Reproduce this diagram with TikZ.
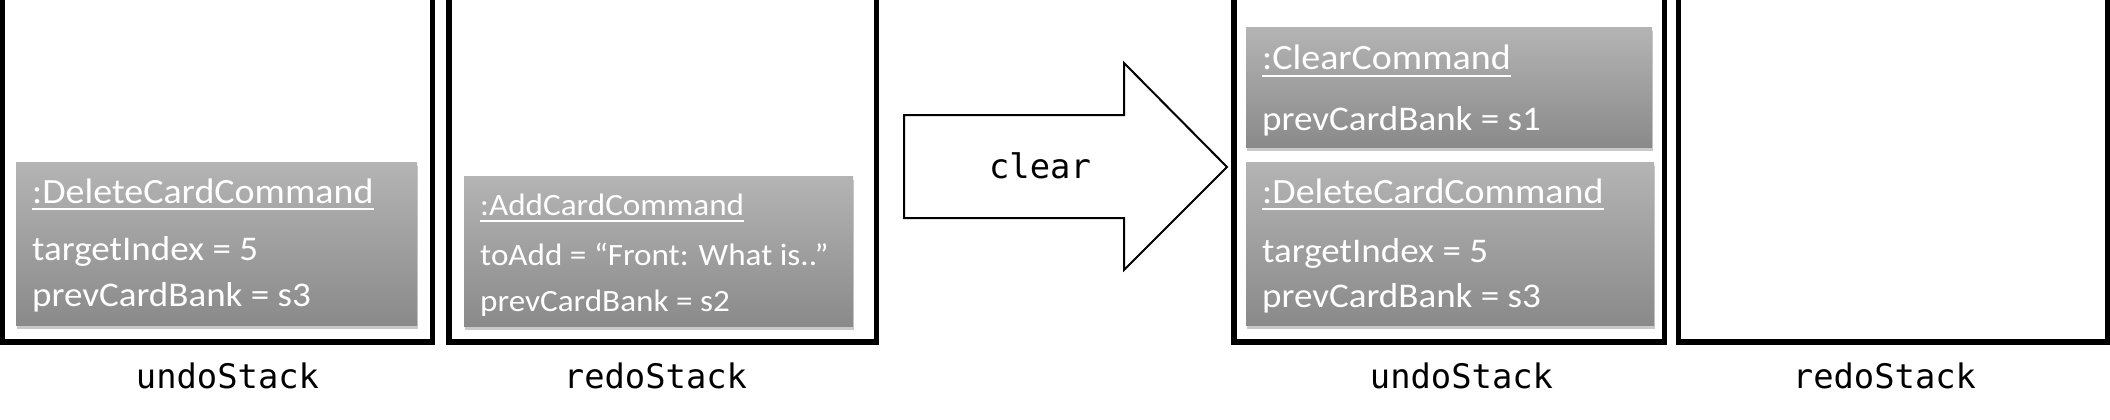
\documentclass[tikz,border=0pt]{standalone}
\usepackage{fontspec}
\setmainfont{Carlito}
\newfontfamily\boxfont[FakeStretch=1.07]{Carlito}
\newfontfamily\monofont{DejaVu Sans Mono}
\usetikzlibrary{shadows}
\definecolor{boxtop}{HTML}{B4B4B4}
\definecolor{boxbot}{HTML}{8A8A8A}
\tikzset{
  stackwall/.style={line width=5.5pt, line join=miter, black},
  cmdbox/.style={draw=none, inner sep=0, anchor=north west, top color=boxtop, bottom color=boxbot,
     drop shadow={opacity=0.35, shadow xshift=1pt, shadow yshift=-4pt, fill=black!60}},
  titletxt/.style={inner sep=0, anchor=base west, text=white, font=\boxfont\fontsize{35.5}{40}\selectfont},
  bigtxt/.style={inner sep=0, anchor=base west, text=white, font=\boxfont\fontsize{34.6}{40}\selectfont},
  smalltxt/.style={inner sep=0, anchor=base west, text=white, font=\boxfont\fontsize{31}{36}\selectfont},
  ulline/.style={white, line width=2.5pt},
  stacklabel/.style={inner sep=0, anchor=base, font=\monofont\fontsize{33.8}{40}\selectfont},
  bigarrow/.style={draw=black, line width=2pt, fill=white, line join=miter}
}
\begin{document}
\begin{tikzpicture}[x=1pt,y=-1pt]
\useasboundingbox (0,0) rectangle (2110,420);
\fill[white] (0,0) rectangle (2110,420);

% stacks
\coordinate (u1a) at (2.5,-5);   \coordinate (u1b) at (2.5,342);
\coordinate (u1c) at (432.5,342); \coordinate (u1d) at (432.5,-5);
\draw[stackwall] (u1a) -- (u1b) -- (u1c) -- (u1d);
\coordinate (r1a) at (449,-5);   \coordinate (r1b) at (449,342);
\coordinate (r1c) at (876.5,342); \coordinate (r1d) at (876.5,-5);
\draw[stackwall] (r1a) -- (r1b) -- (r1c) -- (r1d);
\coordinate (u2a) at (1234,-5);   \coordinate (u2b) at (1234,342);
\coordinate (u2c) at (1664.5,342); \coordinate (u2d) at (1664.5,-5);
\draw[stackwall] (u2a) -- (u2b) -- (u2c) -- (u2d);
\coordinate (r2a) at (1678.5,-5);   \coordinate (r2b) at (1678.5,342);
\coordinate (r2c) at (2107.5,342); \coordinate (r2d) at (2107.5,-5);
\draw[stackwall] (r2a) -- (r2b) -- (r2c) -- (r2d);

% command boxes
\node[cmdbox, minimum width=401pt, minimum height=163pt] (del1) at (16,162) {};
\node[cmdbox, minimum width=389pt, minimum height=150pt] (add1) at (464,176) {};
\node[cmdbox, minimum width=406pt, minimum height=120pt] (clr2) at (1246,27) {};
\node[cmdbox, minimum width=408pt, minimum height=163pt] (del2) at (1246,162) {};

% texts of del1
\node[titletxt] (del1t) at (32,203) {:DeleteCardCommand};
\draw[ulline] ([yshift=-6pt]del1t.base west) -- ([yshift=-6pt]del1t.base east);
\node[bigtxt] (del1a) at (32,260) {targetIndex = 5};
\node[bigtxt] (del1b) at (32,306) {prevCardBank = s3};

% texts of add1
\node[smalltxt] (add1t) at (480,215) {:AddCardCommand};
\draw[ulline] ([yshift=-6pt]add1t.base west) -- ([yshift=-6pt]add1t.base east);
\node[smalltxt] (add1a) at (480,265) {toAdd = “Front: What is..”};
\node[smalltxt] (add1b) at (480,311) {prevCardBank = s2};

% texts of clr2
\node[titletxt] (clr2t) at (1262,70) {:ClearCommand};
\draw[ulline] ([yshift=-6pt]clr2t.base west) -- ([yshift=-6pt]clr2t.base east);
\node[bigtxt] (clr2a) at (1262,130) {prevCardBank = s1};

% texts of del2
\node[titletxt] (del2t) at (1262,203) {:DeleteCardCommand};
\draw[ulline] ([yshift=-6pt]del2t.base west) -- ([yshift=-6pt]del2t.base east);
\node[bigtxt] (del2a) at (1262,262) {targetIndex = 5};
\node[bigtxt] (del2b) at (1262,307) {prevCardBank = s3};

% arrow
\coordinate (a1) at (904,115);
\coordinate (a2) at (1124,115);
\coordinate (a3) at (1124,63);
\coordinate (a4) at (1227,167);
\coordinate (a5) at (1124,270);
\coordinate (a6) at (1124,218);
\coordinate (a7) at (904,218);
\draw[bigarrow] (a1) -- (a2) -- (a3) -- (a4) -- (a5) -- (a6) -- (a7) -- cycle;
\node[stacklabel] (clearlbl) at (1040,178) {clear};

% labels
\node[stacklabel] (lu1) at (227.5,388) {undoStack};
\node[stacklabel] (lr1) at (655.5,388) {redoStack};
\node[stacklabel] (lu2) at (1461.5,388) {undoStack};
\node[stacklabel] (lr2) at (1884.5,388) {redoStack};
\end{tikzpicture}
\end{document}
